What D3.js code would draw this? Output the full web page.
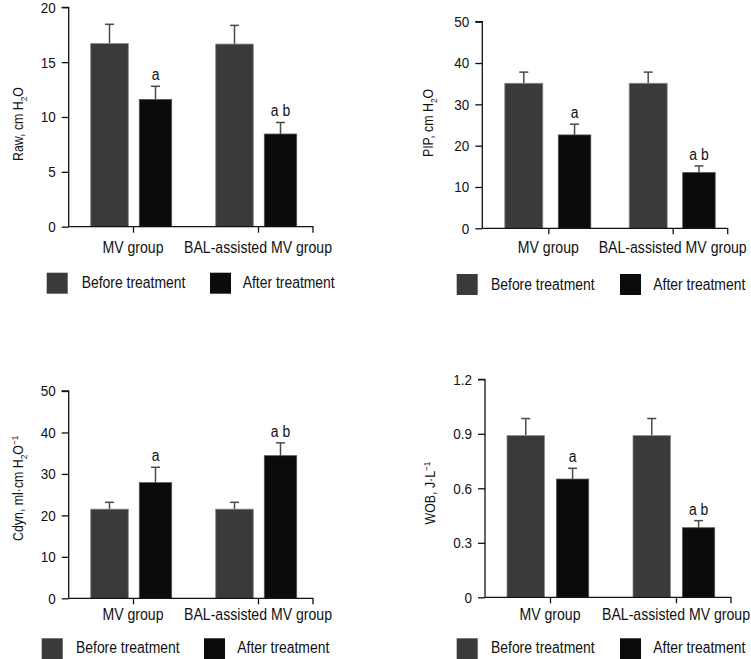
<!DOCTYPE html>
<html>
<head>
<meta charset="utf-8">
<script src="https://cdn.jsdelivr.net/npm/d3@7"></script>
<style>
  html, body { margin: 0; padding: 0; background: #fff; }
  svg { display: block; }
  text { font-family: "Liberation Sans", Arial, sans-serif; fill: #111; }
</style>
</head>
<body>
<svg id="chart" width="751" height="659"></svg>
<script>
// ---- data ----
const groups = ["MV group", "BAL-assisted MV group"];
const seriesNames = ["Before treatment", "After treatment"];

const rawBefore = [16.7, 16.65];
const rawBeforeErr = [1.75, 1.7];
const rawAfter = [11.6, 8.45];
const rawAfterErr = [1.2, 1.05];
const rawTicks = [0, 5, 10, 15, 20];

const pipBefore = [35.1, 35.1];
const pipBeforeErr = [2.7, 2.7];
const pipAfter = [22.6, 13.5];
const pipAfterErr = [2.6, 1.6];
const pipTicks = [0, 10, 20, 30, 40, 50];

const cdynBefore = [21.5, 21.5];
const cdynBeforeErr = [1.65, 1.65];
const cdynAfter = [27.9, 34.4];
const cdynAfterErr = [3.7, 3.1];
const cdynTicks = [0, 10, 20, 30, 40, 50];

const wobBefore = [0.89, 0.89];
const wobBeforeErr = [0.094, 0.094];
const wobAfter = [0.651, 0.383];
const wobAfterErr = [0.059, 0.039];
const wobTicks = [0, 0.3, 0.6, 0.9, 1.2];

const sigLabels = ["a", "a b"];

// ---- layout ----
const svg = d3.select("#chart");
const colors = ["#3a3a3a", "#0b0b0b"];
const SX = 0.87; // horizontal condensing of text

function ctext(parent, x, y, size, str, anchor, rot) {
  const t = parent.append("text")
    .attr("transform", `translate(${x},${y})${rot ? " rotate(" + rot + ")" : ""} scale(${SX},1)`)
    .attr("font-size", size)
    .attr("text-anchor", anchor || "start");
  if (str !== null) t.text(str);
  return t;
}

const panels = [
  { label: [["Raw, cm H"], ["2", "sub"], ["O"]], before: rawBefore, beforeErr: rawBeforeErr, after: rawAfter, afterErr: rawAfterErr, ticks: rawTicks,
    ax: 68.7, axR: 313, yTop: 7.3, yBot: 226.7, c: [133, 258], bOff: [-42.3, -4.7], aOff: [6.3, 38.7],
    ylx: 23, yly: 124, xlY: 253.3, legX: [46.7, 210], legTX: [81.7, 242.7], legY: 272.7, legTY: 287.8 },
  { label: [["PIP, cm H"], ["2", "sub"], ["O"]], before: pipBefore, beforeErr: pipBeforeErr, after: pipAfter, afterErr: pipAfterErr, ticks: pipTicks,
    ax: 482.3, axR: 727.7, yTop: 21.7, yBot: 228.3, c: [548.3, 672.7], bOff: [-43.5, -5.5], aOff: [10, 42.5],
    ylx: 433, yly: 123, xlY: 253.3, legX: [456.7, 620], legTX: [491, 653.3], legY: 274, legTY: 289.5 },
  { label: [["Cdyn, ml·cm H"], ["2", "sub"], ["O"], ["−1", "sup"]], before: cdynBefore, beforeErr: cdynBeforeErr, after: cdynAfter, afterErr: cdynAfterErr, ticks: cdynTicks,
    ax: 68.7, axR: 313, yTop: 391, yBot: 598.3, c: [133, 258], bOff: [-42.3, -4.7], aOff: [6.3, 38.7],
    ylx: 23, yly: 488.3, xlY: 619.5, legX: [41.7, 204], legTX: [76, 237.3], legY: 638.3, legTY: 652.9 },
  { label: [["WOB, J·L"], ["−1", "sup"]], before: wobBefore, beforeErr: wobBeforeErr, after: wobAfter, afterErr: wobAfterErr, ticks: wobTicks,
    ax: 485, axR: 731, yTop: 379.3, yBot: 597.3, c: [550, 676], bOff: [-43, -5.5], aOff: [6.5, 38.7],
    ylx: 435, yly: 493, xlY: 619.5, legX: [456.7, 620], legTX: [491, 653.3], legY: 638.3, legTY: 652.9 }
];

panels.forEach(p => {
  const g = svg.append("g");
  const maxV = p.ticks[p.ticks.length - 1];
  const y = d3.scaleLinear().domain([0, maxV]).range([p.yBot, p.yTop]);
  const x = d3.scalePoint().domain(groups).range(p.c);
  const offs = [p.bOff, p.aOff];
  const vals = [p.before, p.after];
  const errs = [p.beforeErr, p.afterErr];

  seriesNames.forEach((s, si) => {
    groups.forEach((grp, gi) => {
      const x0 = x(grp) + offs[si][0], x1 = x(grp) + offs[si][1];
      const v = vals[si][gi], e = errs[si][gi];
      const cx = (x0 + x1) / 2;
      g.append("line").attr("x1", cx).attr("x2", cx).attr("y1", y(v)).attr("y2", y(v + e))
        .attr("stroke", "#4a4a4a").attr("stroke-width", 1.5);
      g.append("line").attr("x1", cx - 4.5).attr("x2", cx + 4.5).attr("y1", y(v + e)).attr("y2", y(v + e))
        .attr("stroke", "#4a4a4a").attr("stroke-width", 1.5);
      g.append("rect").attr("x", x0).attr("y", y(v)).attr("width", x1 - x0).attr("height", y(0) - y(v))
        .attr("fill", colors[si]).attr("stroke", si === 0 ? "#8a8a8a" : "#555").attr("stroke-width", 0.8);
      if (si === 1) {
        ctext(g, cx, y(v + e) - 6, 16, sigLabels[gi], "middle");
      }
    });
  });

  // y axis
  const yAxis = d3.axisLeft(y).tickValues(p.ticks).tickSize(7).tickPadding(6)
    .tickFormat(d => d === 0 ? "0" : (maxV < 5 ? d.toFixed(1) : String(d)));
  const ya = g.append("g").attr("transform", `translate(${p.ax},0)`).call(yAxis);
  ya.select(".domain").attr("d", `M-7,${p.yTop}H0V${p.yBot}`).attr("stroke", "#111").attr("stroke-width", 1.3);
  ya.selectAll(".tick line").attr("stroke", "#111").attr("stroke-width", 1.3);
  ya.selectAll(".tick text").attr("font-size", 15.5).attr("fill", "#111")
    .attr("x", -13 / SX).attr("transform", `scale(${SX},1)`)
    .style("font-family", '"Liberation Sans", Arial, sans-serif');

  // x axis
  const xAxis = d3.axisBottom(x).tickSize(6).tickSizeOuter(0).tickFormat("");
  const xa = g.append("g").attr("transform", `translate(0,${p.yBot})`).call(xAxis);
  xa.select(".domain").attr("d", `M${p.ax},0H${p.axR}V6`).attr("stroke", "#111").attr("stroke-width", 1.3);
  xa.selectAll(".tick line").attr("stroke", "#111").attr("stroke-width", 1.3);

  groups.forEach(grp => {
    ctext(g, x(grp), p.xlY, 16.2, grp, "middle");
  });

  // y label
  const yl = ctext(g, p.ylx, p.yly, 14.2, null, "middle", -90);
  let prevType = null;
  p.label.forEach(part => {
    const t = yl.append("tspan").text(part[0]);
    const type = part[1] || null;
    let dy = 0;
    if (prevType === "sub") dy -= 4;
    if (prevType === "sup") dy += 5;
    if (type === "sub") { t.attr("font-size", 9.5); dy += 4; }
    if (type === "sup") { t.attr("font-size", 9.5); dy -= 5; }
    t.attr("dy", dy);
    prevType = type;
  });

  // legend
  seriesNames.forEach((s, si) => {
    g.append("rect").attr("x", p.legX[si]).attr("y", p.legY).attr("width", 21).attr("height", 21)
      .attr("fill", colors[si]);
    ctext(g, p.legTX[si], p.legTY, 16, s, "start");
  });
});
</script>
</body>
</html>
